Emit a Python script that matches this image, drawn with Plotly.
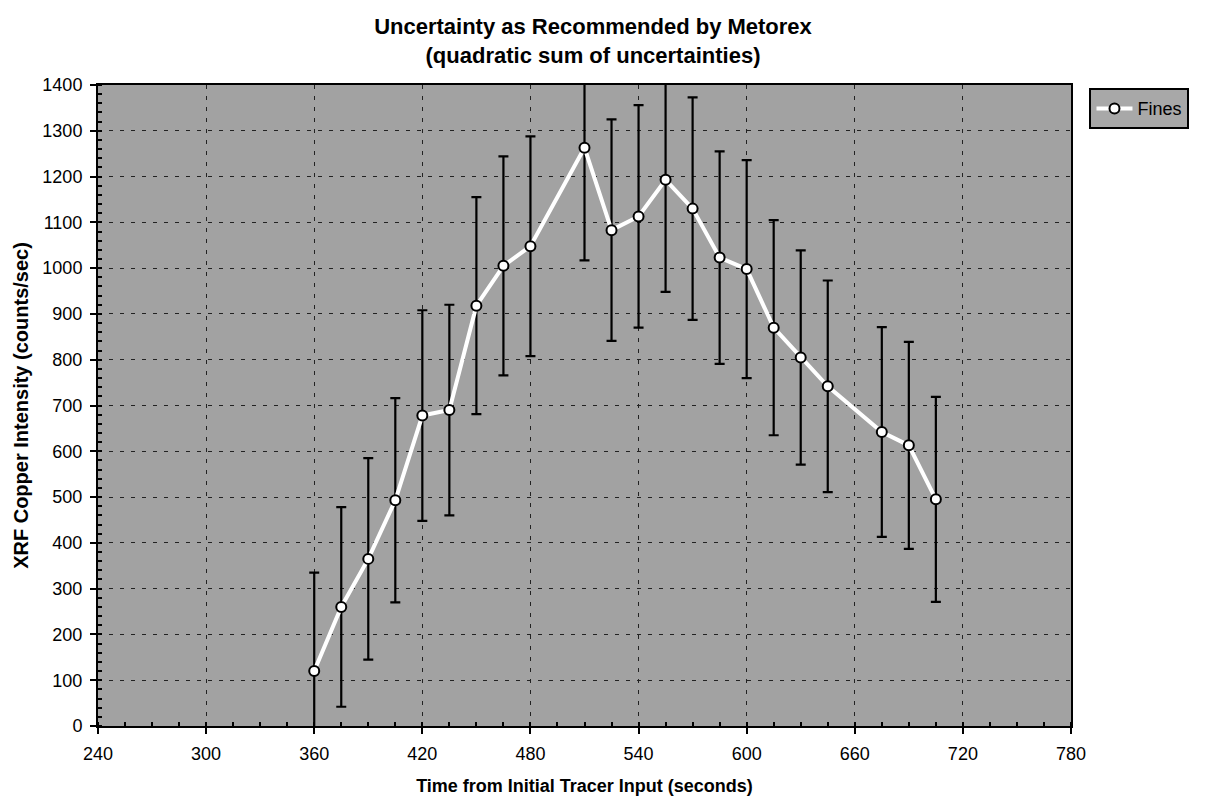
import plotly.graph_objects as go

time_s = [360, 375, 390, 405, 420, 435, 450, 465, 480, 510, 525, 540, 555, 570,
          585, 600, 615, 630, 645, 675, 690, 705]
intensity = [120, 260, 365, 493, 678, 690, 918, 1005, 1048, 1263, 1083, 1113, 1193, 1130,
             1023, 998, 870, 805, 742, 642, 613, 495]
uncert = [215, 218, 220, 223, 230, 230, 237, 239, 240, 246, 242, 243, 245, 243,
          232, 238, 235, 234, 231, 229, 226, 224]

x_ticks = [240, 300, 360, 420, 480, 540, 600, 660, 720, 780]
y_ticks = list(range(0, 1401, 100))

FONT = "Liberation Sans, Arial, sans-serif"
W, H = 1193, 788

fig = go.Figure()
fig.add_trace(go.Scatter(
    x=time_s, y=intensity, name="Fines", mode="lines+markers",
    line=dict(color="white", width=4),
    marker=dict(symbol="circle", size=10, color="white",
                line=dict(color="black", width=2)),
    error_y=dict(type="data", array=uncert, visible=True,
                 color="black", thickness=2.2, width=5),
))

axis_common = dict(
    showline=True, linecolor="black", linewidth=2, mirror=True,
    showgrid=True, gridcolor="#222222", griddash="4px,7px", gridwidth=1,
    ticks="outside", ticklen=6, tickwidth=1.5, tickcolor="black",
    tickfont=dict(family=FONT, size=18, color="black"),
    zeroline=False, automargin=False,
)

fig.update_xaxes(
    range=[240, 780], tickvals=x_ticks, ticktext=[str(v) for v in x_ticks],
    minor=dict(dtick=15, ticks="inside", ticklen=4, tickcolor="black", showgrid=False),
    ticklabelstandoff=4,
    title=dict(text="<b>Time from Initial Tracer Input (seconds)</b>",
               font=dict(family=FONT, size=18, color="black"), standoff=21),
    **axis_common,
)
fig.update_yaxes(
    range=[0, 1400], tickvals=y_ticks, ticktext=[str(v) for v in y_ticks],
    minor=dict(dtick=20, ticks="inside", ticklen=4, tickcolor="black", showgrid=False),
    ticklabelstandoff=4,
    title=dict(text="<b>XRF Copper Intensity (counts/sec)</b>",
               font=dict(family=FONT, size=20, color="black"), standoff=8),
    **axis_common,
)

fig.update_layout(
    width=W, height=H,
    margin=dict(l=90, r=123, t=77, b=70),
    paper_bgcolor="white", plot_bgcolor="#a2a2a2",
    title=dict(text="<b>Uncertainty as Recommended by Metorex<br>(quadratic sum of uncertainties)</b>",
               x=(593 - 8) / W, xanchor="center", xref="container",
               y=1 - 26 / H, yanchor="middle", yref="container",
               font=dict(family=FONT, size=22, color="black")),
    font=dict(family=FONT, color="black"),
    showlegend=True,
    legend=dict(x=1.019, y=0.995, xanchor="left", yanchor="top",
                bgcolor="#a8a8a8", bordercolor="black", borderwidth=2,
                itemwidth=36,
                font=dict(family=FONT, size=18, color="black")),
)

fig.write_html("out.html")
